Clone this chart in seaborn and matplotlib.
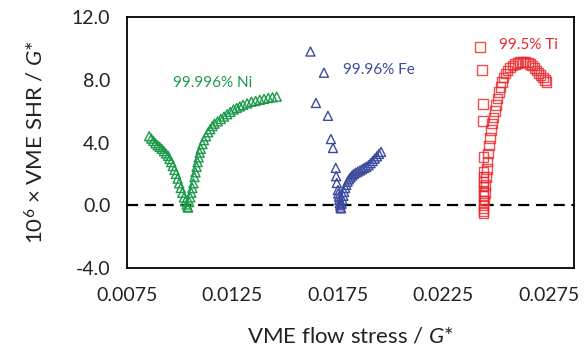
import pandas as pd
import matplotlib
matplotlib.use("Agg")
import matplotlib.pyplot as plt
import seaborn as sns

# 99.996% Ni - falling branch then rising branch
ni_x = [0.00855, 0.00865, 0.00875, 0.00885, 0.00895, 0.00905, 0.00915, 0.00925,
        0.00935, 0.00945, 0.00952, 0.00960, 0.00967, 0.00975, 0.00982, 0.00990,
        0.00997, 0.01005, 0.01012, 0.01020, 0.01027, 0.01033, 0.01037,
        0.01040, 0.01045, 0.01050, 0.01055, 0.01060, 0.01065, 0.01070, 0.01075,
        0.01080, 0.01085, 0.01090, 0.01095, 0.01100, 0.01108, 0.01115, 0.01125,
        0.01135, 0.01145, 0.01155, 0.01165, 0.01180, 0.01195, 0.01210, 0.01225,
        0.01240, 0.01255, 0.01270, 0.01285, 0.01300, 0.01320, 0.01340, 0.01360,
        0.01380, 0.01400, 0.01420, 0.01440, 0.01460]
ni_y = [4.40, 4.25, 4.10, 3.95, 3.82, 3.72, 3.60, 3.45,
        3.30, 3.15, 2.95, 2.75, 2.50, 2.25, 2.00, 1.70,
        1.40, 1.10, 0.80, 0.50, 0.25, 0.05, -0.10,
        -0.15, 0.20, 0.50, 0.80, 1.10, 1.40, 1.80, 2.10,
        2.45, 2.75, 3.05, 3.35, 3.60, 3.90, 4.15, 4.40,
        4.65, 4.85, 5.05, 5.20, 5.35, 5.50, 5.65, 5.80,
        5.95, 6.10, 6.20, 6.30, 6.40, 6.50, 6.60, 6.65,
        6.72, 6.78, 6.84, 6.88, 6.92]

# 99.96% Fe
fe_x = [0.01620, 0.01684, 0.01646, 0.01703, 0.01717, 0.01727, 0.01740, 0.01742,
        0.01745, 0.01750, 0.01752, 0.01755, 0.01757, 0.01759, 0.01761, 0.01763,
        0.01765, 0.01768, 0.01772, 0.01776, 0.01780, 0.01785, 0.01790, 0.01796,
        0.01803, 0.01810, 0.01818, 0.01826, 0.01835, 0.01845, 0.01855, 0.01865,
        0.01875, 0.01885, 0.01895, 0.01905, 0.01915, 0.01925, 0.01935, 0.01945,
        0.01955]
fe_y = [9.80, 8.45, 6.52, 5.70, 4.22, 3.65, 2.38, 1.85,
        1.42, 0.97, 0.75, 0.55, 0.35, 0.15, 0.00, -0.15,
        -0.20, 0.10, 0.35, 0.60, 0.85, 1.10, 1.30, 1.50,
        1.65, 1.78, 1.90, 2.00, 2.08, 2.15, 2.22, 2.30,
        2.38, 2.45, 2.55, 2.68, 2.82, 2.97, 3.12, 3.27,
        3.40]

# 99.5% Ti
ti_x = [0.02425, 0.02435, 0.02437, 0.02437, 0.02440, 0.02440,
        0.02440, 0.02440, 0.02440, 0.02440, 0.02440, 0.02440, 0.02440, 0.02440,
        0.02440, 0.02440,
        0.02445, 0.02448, 0.02450, 0.02453, 0.02456, 0.02459, 0.02463, 0.02467,
        0.02472, 0.02477, 0.02482, 0.02488, 0.02494, 0.02500, 0.02507, 0.02514,
        0.02521, 0.02528, 0.02536, 0.02545, 0.02555, 0.02566, 0.02578, 0.02590,
        0.02602, 0.02615, 0.02628, 0.02640, 0.02652, 0.02662, 0.02672, 0.02682,
        0.02692, 0.02702, 0.02712, 0.02722, 0.02732, 0.02740]
ti_y = [10.10, 8.62, 6.45, 5.37, 3.08, 2.10,
        1.80, 1.50, 1.20, 0.90, 0.60, 0.30, 0.00, -0.20, -0.40, -0.50,
        0.30, 0.80, 1.30, 1.80, 2.30, 2.80, 3.30, 3.80,
        4.30, 4.80, 5.20, 5.60, 6.00, 6.40, 6.80, 7.20,
        7.55, 7.85, 8.15, 8.40, 8.60, 8.78, 8.90, 9.00,
        9.08, 9.12, 9.14, 9.13, 9.10, 9.02, 8.90, 8.75,
        8.60, 8.45, 8.30, 8.15, 8.00, 7.86]

x_ticks = [0.0075, 0.0125, 0.0175, 0.0225, 0.0275]
y_ticks = [-4.0, 0.0, 4.0, 8.0, 12.0]

green = "#1a9a4a"
blue = "#3d4a9e"
red = "#e8262c"

sns.set_style("white")
plt.rcParams["font.family"] = ["Lato", "DejaVu Sans"]
plt.rcParams["mathtext.fontset"] = "custom"
plt.rcParams["mathtext.rm"] = "Lato"
plt.rcParams["mathtext.it"] = "Lato:italic"

fig = plt.figure(figsize=(5.86, 3.54), dpi=100)
ax = fig.add_axes([127 / 586, 1 - 268 / 354, 447 / 586, 251 / 354])

ax.axhline(0, color="black", lw=1.6, dashes=(5, 3), zorder=1)

sns.scatterplot(x=ni_x, y=ni_y, marker="^", s=42, facecolors="none",
                edgecolor=green, linewidth=1.0, ax=ax, zorder=3)
sns.scatterplot(x=fe_x, y=fe_y, marker="^", s=42, facecolors="none",
                edgecolor=blue, linewidth=1.0, ax=ax, zorder=3)
sns.scatterplot(x=ti_x, y=ti_y, marker="s", s=48, facecolors="none",
                edgecolor=red, linewidth=1.0, alpha=0.8, ax=ax, zorder=3)

ax.text(0.01158, 7.8, "99.996% Ni", color=green, fontsize=11, ha="center", va="center")
ax.text(0.01944, 8.62, "99.96% Fe", color=blue, fontsize=11, ha="center", va="center")
ax.text(0.02655, 10.2, "99.5% Ti", color=red, fontsize=11, ha="center", va="center")

ax.set_xlim(0.0075, 0.0287)
ax.set_ylim(-4, 12)
ax.set_xticks(x_ticks)
ax.set_yticks(y_ticks)
ax.set_xticklabels([f"{v:.4f}" for v in x_ticks])
ax.set_yticklabels([f"{v:.1f}" for v in y_ticks])
ax.tick_params(direction="in", length=6, width=1.1, labelsize=14,
               colors="black", labelcolor="#222222")
ax.tick_params(axis="x", pad=14)
ax.tick_params(axis="y", pad=12)

for sp in ax.spines.values():
    sp.set_color("black")
    sp.set_linewidth(1.3)

ax.set_xlabel("VME flow stress / $\\mathit{G}$*", fontsize=16, labelpad=16, color="#222222")
ax.set_ylabel("10$^{6}$ × VME SHR / $\\mathit{G}$*", fontsize=16, labelpad=18, color="#222222")

fig.savefig("out.png", dpi=100)
